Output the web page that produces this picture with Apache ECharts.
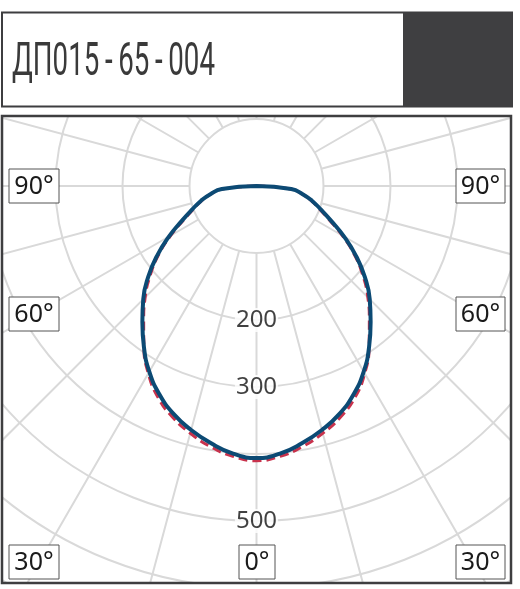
<!DOCTYPE html>
<html><head><meta charset="utf-8">
<script src="https://cdn.jsdelivr.net/npm/echarts@6/dist/echarts.min.js"></script>
<style>html,body{margin:0;padding:0;background:#fff}#c{width:520px;height:589px}</style>
</head><body><div id="c"></div>
<script>
// ---- data ----
const titleText = 'ДП015\u2009-\u200965\u2009-\u2009004';
const angles = [0,5,10,15,20,25,30,35,40,45,50,55,60,65,70,75,80,85,90];
const planeA = [406,401,390,377,362,343,320,293,265,239,211,181,151,123,102,86,70,52,0];   // solid
const planeB = [410,405,395,382,367,348,323,293,262,235,207,178,148,120,100,85,69,51,0];   // dashed
const ringLabels = [200,300,500];
const angleLabels = ['90°','60°','30°','0°'];

function loop(vals){
  const n = angles.length;
  const out = [];
  for (let i = n-1; i >= 0; i--) out.push([vals[i], -angles[i]]);
  for (let i = 1; i < n; i++) out.push([vals[i], angles[i]]);
  return out;
}

const cx = 256.5, cy = 186;
const chart = echarts.init(document.getElementById('c'), null, {renderer:'canvas'});

const cv = document.createElement('canvas').getContext('2d');
const titleFont = '46px Roboto';
cv.font = titleFont;
const tw = cv.measureText(titleText).width;
const titleScale = 203 / tw;

const grid = '#d9d9d9';
const frame = '#3e3e40';
function box(label, x, y, w, h){
  return {type:'group', z:110, children:[
    {type:'rect', shape:{x:x, y:y, width:w, height:h}, style:{fill:'#fff', stroke:'#555', lineWidth:1}, z:110},
    {type:'text', x:x+w/2, y:y+h/2+1, style:{text:label, font:'25px "Noto Sans"', fill:'#1a1a1a', align:'center', verticalAlign:'middle'}, z:111}
  ]};
}
const hidden = {axisLine:{show:false}, axisTick:{show:false}, axisLabel:{show:false}, splitLine:{show:false}};

chart.setOption({
  animation:false,
  polar:[{center:[cx, cy], radius:[67, 536]}, {center:[cx, cy], radius:[0, 536]}],
  angleAxis:[
    {polarIndex:0, type:'value', min:-180, max:180, interval:15, startAngle:90, clockwise:true,
      axisLine:{show:false}, axisTick:{show:false}, axisLabel:{show:false},
      splitLine:{show:true, lineStyle:{color:grid, width:2}}},
    Object.assign({polarIndex:1, type:'value', min:-180, max:180, interval:15, startAngle:90, clockwise:true}, hidden)
  ],
  radiusAxis:[
    {polarIndex:0, type:'value', min:100, max:800, interval:100,
      axisLine:{show:false}, axisTick:{show:false}, axisLabel:{show:false},
      splitLine:{show:true, lineStyle:{color:grid, width:2}}},
    Object.assign({polarIndex:1, type:'value', min:0, max:800, interval:100}, hidden)
  ],
  series:[
    {type:'scatter', coordinateSystem:'polar', polarIndex:1, symbolSize:0, z:3,
      data: ringLabels.map(v => [v, 0]),
      label:{show:true, position:'inside', formatter:p => String(p.value[0]),
        fontSize:24, fontFamily:'Noto Sans', color:'#111', backgroundColor:'#fff', padding:[0,1]}},
    {type:'line', coordinateSystem:'polar', polarIndex:1, data:loop(planeB), smooth:0.5, showSymbol:false, clip:false, z:4,
      lineStyle:{color:'#c8324c', width:3, type:[9,5]}},
    {type:'line', coordinateSystem:'polar', polarIndex:1, data:loop(planeA), smooth:0.5, showSymbol:false, clip:false, z:5,
      lineStyle:{color:'#0c4a74', width:4}}
  ],
  graphic:[
    {type:'rect', shape:{x:0,y:0,width:520,height:116}, style:{fill:'#fff'}, z:100},
    {type:'rect', shape:{x:0,y:0,width:2,height:589}, style:{fill:'#fff'}, z:100},
    {type:'rect', shape:{x:511,y:0,width:9,height:589}, style:{fill:'#fff'}, z:100},
    {type:'rect', shape:{x:0,y:583,width:520,height:6}, style:{fill:'#fff'}, z:100},
    {type:'rect', shape:{x:2,y:116,width:509,height:467}, style:{fill:'none', stroke:frame, lineWidth:2.5}, z:105},
    {type:'rect', shape:{x:2,y:12.5,width:510,height:94}, style:{fill:'#fff', stroke:frame, lineWidth:2}, z:105},
    {type:'rect', shape:{x:403,y:12.5,width:109,height:94}, style:{fill:'#3f3f41'}, z:106},
    {type:'text', x:12, y:63.5, scaleX:titleScale, style:{text:titleText, font:titleFont, fill:'#3a3a3a', verticalAlign:'middle'}, z:107},
    box(angleLabels[0], 9, 169, 50, 34),
    box(angleLabels[0], 456, 169, 49, 34),
    box(angleLabels[1], 9, 297, 50, 34),
    box(angleLabels[1], 456, 297, 49, 34),
    box(angleLabels[2], 9, 545, 50, 34),
    box(angleLabels[2], 456, 545, 49, 34),
    box(angleLabels[3], 239, 545, 36, 34)
  ]
});
</script></body></html>
